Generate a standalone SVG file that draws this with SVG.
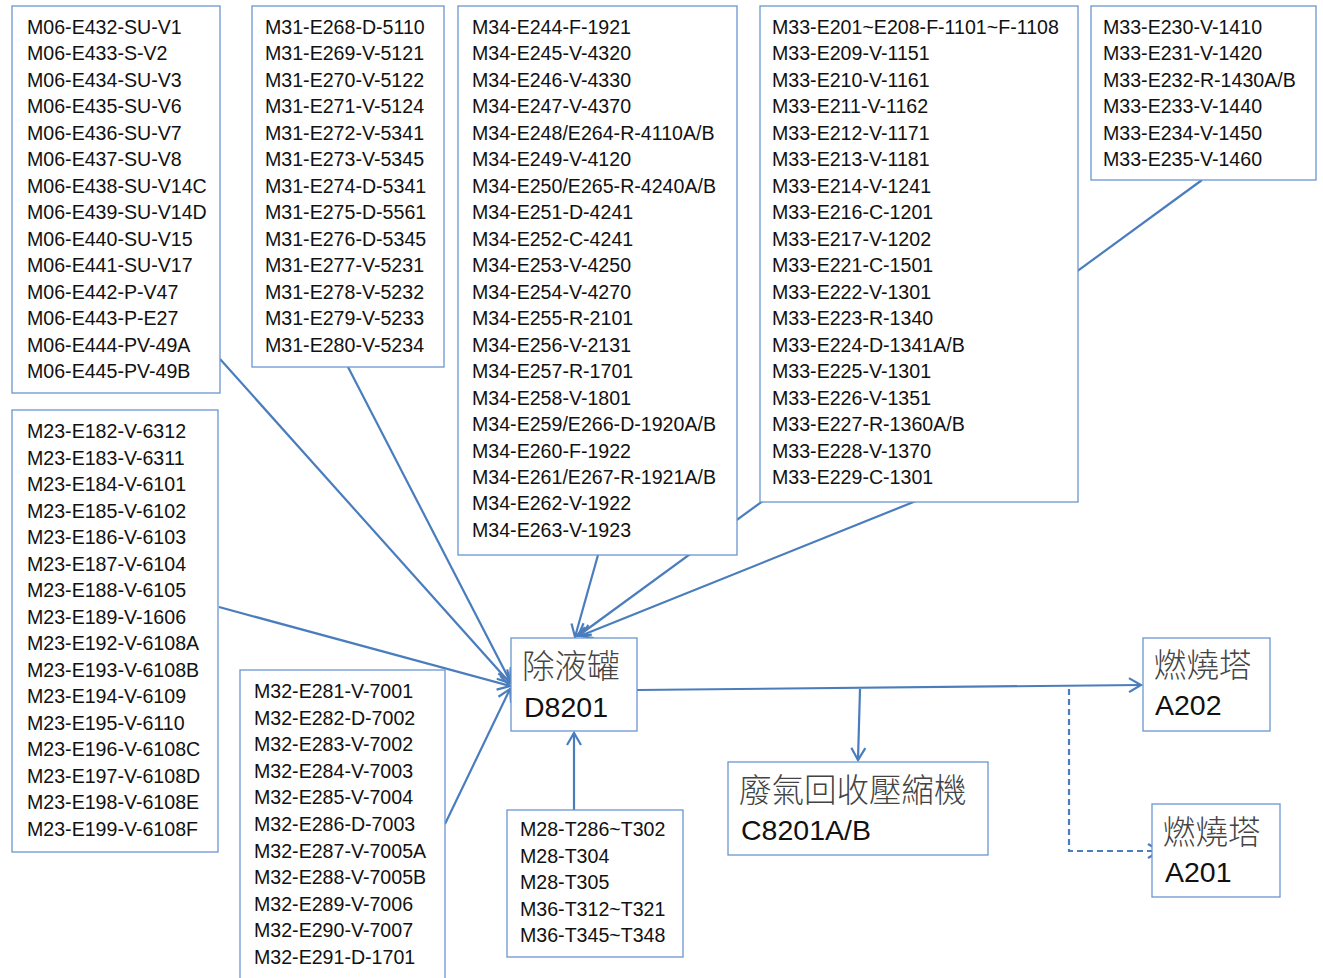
<svg xmlns="http://www.w3.org/2000/svg" width="1323" height="978" viewBox="0 0 1323 978">
<defs>
<style>
.box{fill:#ffffff;stroke:#6a96cf;stroke-width:1.3}
.lst{font-family:"Liberation Sans",Arial,sans-serif;font-size:19.6px;fill:#111}
.cjk{font-family:"Noto Sans CJK TC","Noto Sans CJK SC",sans-serif;font-size:32.5px;fill:#444;font-weight:300}
.big{font-family:"Liberation Sans",Arial,sans-serif;font-size:28.5px;fill:#111}
.con{fill:none;stroke:#4a7dbd;stroke-width:2.2}
.dash{stroke-dasharray:6,4}
</style>
<marker id="arr" markerUnits="userSpaceOnUse" markerWidth="16" markerHeight="18" refX="13" refY="8" orient="auto" viewBox="0 0 16 16">
<path d="M1,1 L13,8 L1,15" fill="none" stroke="#4a7dbd" stroke-width="2.2"/>
</marker>
</defs>
<rect width="1323" height="978" fill="#ffffff"/>

<g id="connectors">
<line class="con" x1="220" y1="359" x2="510" y2="683" marker-end="url(#arr)"/>
<line class="con" x1="348" y1="367" x2="510" y2="681" marker-end="url(#arr)"/>
<line class="con" x1="219" y1="607" x2="510" y2="686" marker-end="url(#arr)"/>
<line class="con" x1="445" y1="824" x2="510" y2="689" marker-end="url(#arr)"/>
<line class="con" x1="598" y1="555" x2="575" y2="637" marker-end="url(#arr)"/>
<line class="con" x1="1202" y1="180" x2="578" y2="636" marker-end="url(#arr)"/>
<line class="con" x1="916" y1="501" x2="580" y2="636" marker-end="url(#arr)"/>
<line class="con" x1="574" y1="810" x2="574" y2="733" marker-end="url(#arr)"/>
<line class="con" x1="637" y1="690" x2="1141" y2="685" marker-end="url(#arr)"/>
<line class="con" x1="860" y1="689" x2="858" y2="760" marker-end="url(#arr)"/>
<polyline class="con dash" points="1069,689 1069,851 1160,851" marker-end="url(#arr)"/>
</g>

<g id="m06">
<rect class="box" x="12" y="6" width="208" height="387"/>
<text class="lst">
<tspan x="27" y="34">M06-E432-SU-V1</tspan>
<tspan x="27" dy="26.46">M06-E433-S-V2</tspan>
<tspan x="27" dy="26.46">M06-E434-SU-V3</tspan>
<tspan x="27" dy="26.46">M06-E435-SU-V6</tspan>
<tspan x="27" dy="26.46">M06-E436-SU-V7</tspan>
<tspan x="27" dy="26.46">M06-E437-SU-V8</tspan>
<tspan x="27" dy="26.46">M06-E438-SU-V14C</tspan>
<tspan x="27" dy="26.46">M06-E439-SU-V14D</tspan>
<tspan x="27" dy="26.46">M06-E440-SU-V15</tspan>
<tspan x="27" dy="26.46">M06-E441-SU-V17</tspan>
<tspan x="27" dy="26.46">M06-E442-P-V47</tspan>
<tspan x="27" dy="26.46">M06-E443-P-E27</tspan>
<tspan x="27" dy="26.46">M06-E444-PV-49A</tspan>
<tspan x="27" dy="26.46">M06-E445-PV-49B</tspan>
</text>
</g>

<g id="m31">
<rect class="box" x="252" y="6" width="192" height="361"/>
<text class="lst">
<tspan x="265" y="34">M31-E268-D-5110</tspan>
<tspan x="265" dy="26.46">M31-E269-V-5121</tspan>
<tspan x="265" dy="26.46">M31-E270-V-5122</tspan>
<tspan x="265" dy="26.46">M31-E271-V-5124</tspan>
<tspan x="265" dy="26.46">M31-E272-V-5341</tspan>
<tspan x="265" dy="26.46">M31-E273-V-5345</tspan>
<tspan x="265" dy="26.46">M31-E274-D-5341</tspan>
<tspan x="265" dy="26.46">M31-E275-D-5561</tspan>
<tspan x="265" dy="26.46">M31-E276-D-5345</tspan>
<tspan x="265" dy="26.46">M31-E277-V-5231</tspan>
<tspan x="265" dy="26.46">M31-E278-V-5232</tspan>
<tspan x="265" dy="26.46">M31-E279-V-5233</tspan>
<tspan x="265" dy="26.46">M31-E280-V-5234</tspan>
</text>
</g>

<g id="m34">
<rect class="box" x="458" y="6" width="279" height="549"/>
<text class="lst">
<tspan x="472" y="34">M34-E244-F-1921</tspan>
<tspan x="472" dy="26.47">M34-E245-V-4320</tspan>
<tspan x="472" dy="26.47">M34-E246-V-4330</tspan>
<tspan x="472" dy="26.47">M34-E247-V-4370</tspan>
<tspan x="472" dy="26.47">M34-E248/E264-R-4110A/B</tspan>
<tspan x="472" dy="26.47">M34-E249-V-4120</tspan>
<tspan x="472" dy="26.47">M34-E250/E265-R-4240A/B</tspan>
<tspan x="472" dy="26.47">M34-E251-D-4241</tspan>
<tspan x="472" dy="26.47">M34-E252-C-4241</tspan>
<tspan x="472" dy="26.47">M34-E253-V-4250</tspan>
<tspan x="472" dy="26.47">M34-E254-V-4270</tspan>
<tspan x="472" dy="26.47">M34-E255-R-2101</tspan>
<tspan x="472" dy="26.47">M34-E256-V-2131</tspan>
<tspan x="472" dy="26.47">M34-E257-R-1701</tspan>
<tspan x="472" dy="26.47">M34-E258-V-1801</tspan>
<tspan x="472" dy="26.47">M34-E259/E266-D-1920A/B</tspan>
<tspan x="472" dy="26.47">M34-E260-F-1922</tspan>
<tspan x="472" dy="26.47">M34-E261/E267-R-1921A/B</tspan>
<tspan x="472" dy="26.47">M34-E262-V-1922</tspan>
<tspan x="472" dy="26.47">M34-E263-V-1923</tspan>
</text>
</g>

<g id="m33a">
<rect class="box" x="760" y="6" width="318" height="496"/>
<text class="lst">
<tspan x="772" y="34">M33-E201~E208-F-1101~F-1108</tspan>
<tspan x="772" dy="26.47">M33-E209-V-1151</tspan>
<tspan x="772" dy="26.47">M33-E210-V-1161</tspan>
<tspan x="772" dy="26.47">M33-E211-V-1162</tspan>
<tspan x="772" dy="26.47">M33-E212-V-1171</tspan>
<tspan x="772" dy="26.47">M33-E213-V-1181</tspan>
<tspan x="772" dy="26.47">M33-E214-V-1241</tspan>
<tspan x="772" dy="26.47">M33-E216-C-1201</tspan>
<tspan x="772" dy="26.47">M33-E217-V-1202</tspan>
<tspan x="772" dy="26.47">M33-E221-C-1501</tspan>
<tspan x="772" dy="26.47">M33-E222-V-1301</tspan>
<tspan x="772" dy="26.47">M33-E223-R-1340</tspan>
<tspan x="772" dy="26.47">M33-E224-D-1341A/B</tspan>
<tspan x="772" dy="26.47">M33-E225-V-1301</tspan>
<tspan x="772" dy="26.47">M33-E226-V-1351</tspan>
<tspan x="772" dy="26.47">M33-E227-R-1360A/B</tspan>
<tspan x="772" dy="26.47">M33-E228-V-1370</tspan>
<tspan x="772" dy="26.47">M33-E229-C-1301</tspan>
</text>
</g>

<g id="m33b">
<rect class="box" x="1091" y="6" width="225" height="174"/>
<text class="lst">
<tspan x="1103" y="34">M33-E230-V-1410</tspan>
<tspan x="1103" dy="26.47">M33-E231-V-1420</tspan>
<tspan x="1103" dy="26.47">M33-E232-R-1430A/B</tspan>
<tspan x="1103" dy="26.47">M33-E233-V-1440</tspan>
<tspan x="1103" dy="26.47">M33-E234-V-1450</tspan>
<tspan x="1103" dy="26.47">M33-E235-V-1460</tspan>
</text>
</g>

<g id="m23">
<rect class="box" x="12" y="410" width="206" height="442"/>
<text class="lst">
<tspan x="27" y="438">M23-E182-V-6312</tspan>
<tspan x="27" dy="26.53">M23-E183-V-6311</tspan>
<tspan x="27" dy="26.53">M23-E184-V-6101</tspan>
<tspan x="27" dy="26.53">M23-E185-V-6102</tspan>
<tspan x="27" dy="26.53">M23-E186-V-6103</tspan>
<tspan x="27" dy="26.53">M23-E187-V-6104</tspan>
<tspan x="27" dy="26.53">M23-E188-V-6105</tspan>
<tspan x="27" dy="26.53">M23-E189-V-1606</tspan>
<tspan x="27" dy="26.53">M23-E192-V-6108A</tspan>
<tspan x="27" dy="26.53">M23-E193-V-6108B</tspan>
<tspan x="27" dy="26.53">M23-E194-V-6109</tspan>
<tspan x="27" dy="26.53">M23-E195-V-6110</tspan>
<tspan x="27" dy="26.53">M23-E196-V-6108C</tspan>
<tspan x="27" dy="26.53">M23-E197-V-6108D</tspan>
<tspan x="27" dy="26.53">M23-E198-V-6108E</tspan>
<tspan x="27" dy="26.53">M23-E199-V-6108F</tspan>
</text>
</g>

<g id="m32">
<rect class="box" x="240" y="670" width="205" height="320"/>
<text class="lst">
<tspan x="254" y="698">M32-E281-V-7001</tspan>
<tspan x="254" dy="26.6">M32-E282-D-7002</tspan>
<tspan x="254" dy="26.6">M32-E283-V-7002</tspan>
<tspan x="254" dy="26.6">M32-E284-V-7003</tspan>
<tspan x="254" dy="26.6">M32-E285-V-7004</tspan>
<tspan x="254" dy="26.6">M32-E286-D-7003</tspan>
<tspan x="254" dy="26.6">M32-E287-V-7005A</tspan>
<tspan x="254" dy="26.6">M32-E288-V-7005B</tspan>
<tspan x="254" dy="26.6">M32-E289-V-7006</tspan>
<tspan x="254" dy="26.6">M32-E290-V-7007</tspan>
<tspan x="254" dy="26.6">M32-E291-D-1701</tspan>
</text>
</g>

<g id="m28">
<rect class="box" x="507" y="810" width="176" height="147"/>
<text class="lst">
<tspan x="520" y="836">M28-T286~T302</tspan>
<tspan x="520" dy="26.5">M28-T304</tspan>
<tspan x="520" dy="26.5">M28-T305</tspan>
<tspan x="520" dy="26.5">M36-T312~T321</tspan>
<tspan x="520" dy="26.5">M36-T345~T348</tspan>
</text>
</g>

<g id="d8201">
<rect class="box" x="511" y="638" width="126" height="93"/>
<text class="cjk" x="522" y="678">除液罐</text>
<text class="big" x="524" y="717">D8201</text>
</g>

<g id="a202">
<rect class="box" x="1143" y="638" width="127" height="93"/>
<text class="cjk" x="1154" y="677">燃燒塔</text>
<text class="big" x="1155" y="715">A202</text>
</g>

<g id="a201">
<rect class="box" x="1152" y="804" width="128" height="93"/>
<text class="cjk" x="1163" y="844">燃燒塔</text>
<text class="big" x="1165" y="882">A201</text>
</g>

<g id="c8201">
<rect class="box" x="728" y="762" width="260" height="93"/>
<text class="cjk" x="739" y="802">廢氣回收壓縮機</text>
<text class="big" x="741" y="840">C8201A/B</text>
</g>
</svg>
